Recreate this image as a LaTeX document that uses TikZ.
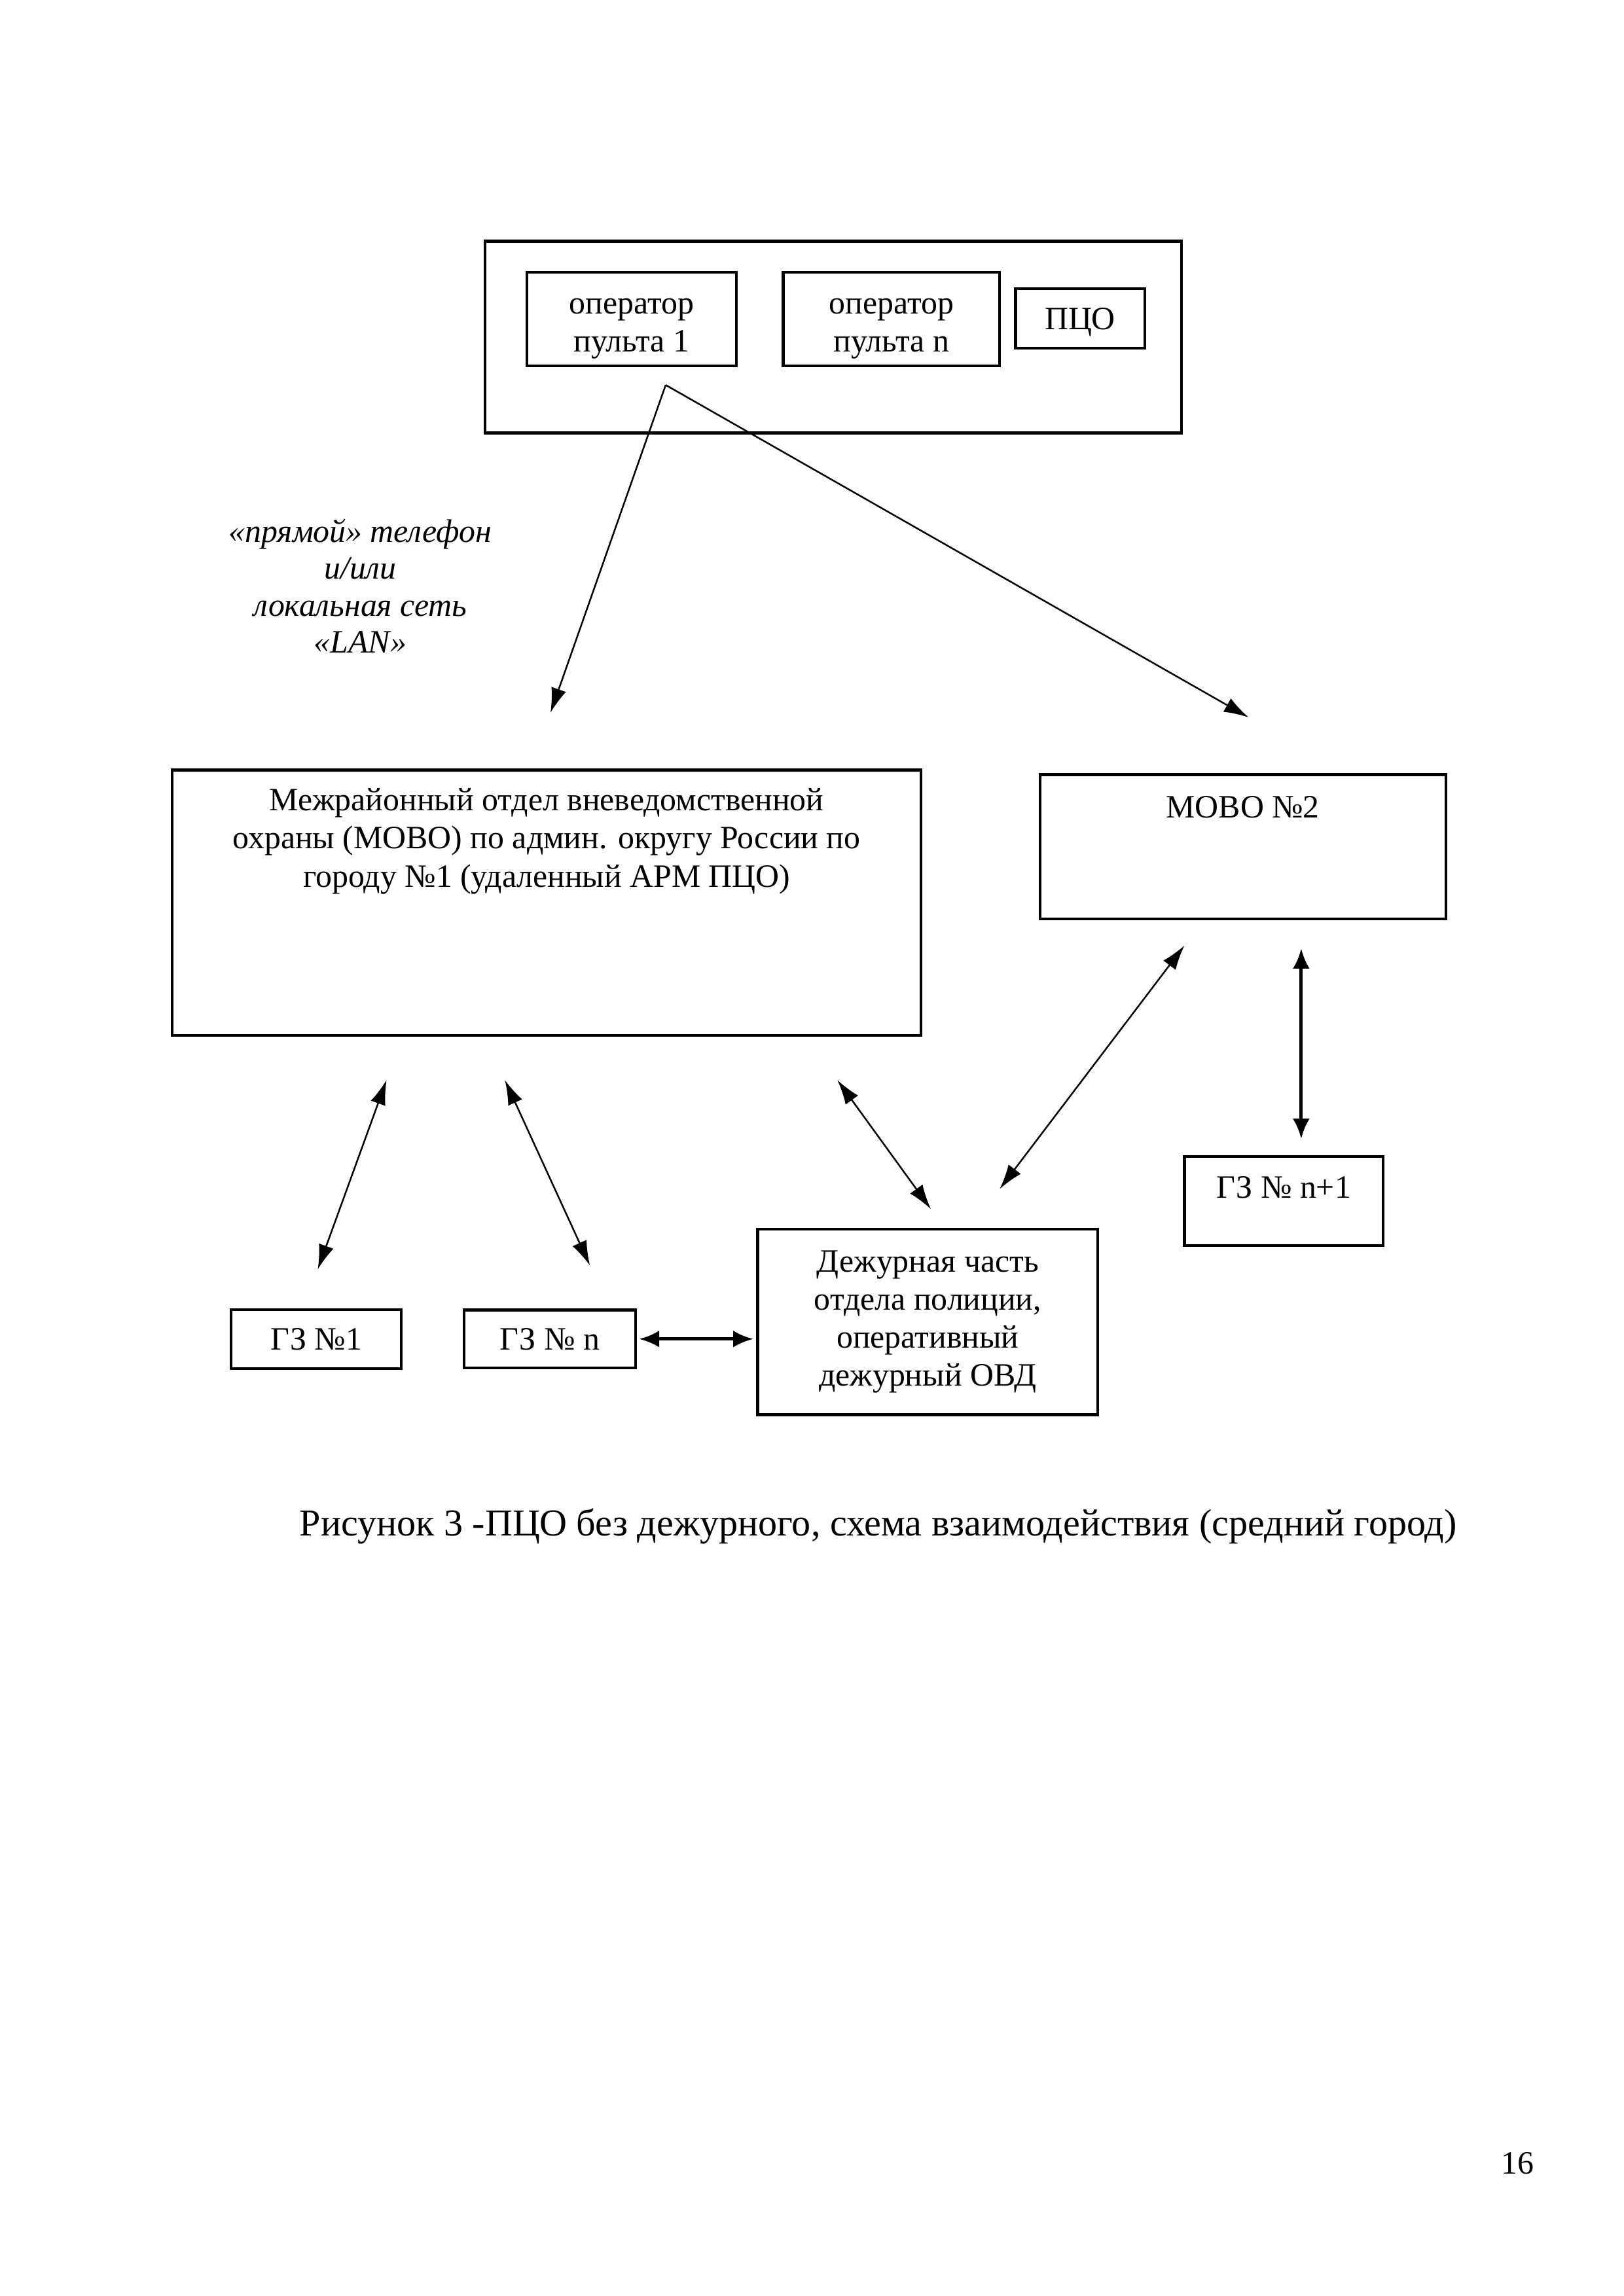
\documentclass[tikz,border=0pt]{standalone}
\usepackage{fontspec}
\setmainfont{Liberation Serif}
\usetikzlibrary{arrows.meta,positioning}

\begin{document}
\begin{tikzpicture}[
  box/.style={draw,line width=1pt,align=center,inner sep=0pt,font=\fontsize{12}{14}\selectfont},
  boxtext/.style={align=center,inner sep=0pt,font=\fontsize{12}{14}\selectfont},
  oneway/.style={-{Latex[length=3.2mm,width=2mm]},line width=0.6pt},
  link/.style={{Latex[length=3.2mm,width=2mm]}-{Latex[length=3.2mm,width=2mm]},line width=0.6pt},
  boldlink/.style={{Latex[length=2.6mm,width=2.2mm]}-{Latex[length=2.6mm,width=2.2mm]},line width=1.2pt}
]
  \useasboundingbox (0,0) rectangle (21,-29.7);
  % Operator room
  \node[box,minimum width=9.01cm,minimum height=2.48cm] (room) at (10.775,-4.36) {};
  \node[box,minimum width=2.71cm,minimum height=1.21cm] (op1) at (8.17,-4.13) {};
  \node[boxtext] (op1txt) at ([yshift=-0.12cm]op1.center) {оператор\\пульта 1};
  \node[box,minimum width=2.80cm,minimum height=1.21cm] (opn) at (11.53,-4.13) {};
  \node[boxtext] (opntxt) at ([yshift=-0.12cm]opn.center) {оператор\\пульта n};
  \node[box,minimum width=1.67cm,minimum height=0.77cm] (pco) at (13.97,-4.12) {};
  \node[boxtext] (pcotxt) at ([yshift=-0.05cm]pco.center) {ПЦО};
  \node[boxtext,font=\itshape\fontsize{12}{13.6}\selectfont] (lan) at (4.66,-7.58) {«прямой» телефон\\и/или\\локальная сеть\\«LAN»};
  % Departments
  \node[box,minimum width=9.69cm,minimum height=3.43cm] (movo1) at (7.07,-11.675) {};
  \node[boxtext,anchor=north] (movo1txt) at ([yshift=-0.25cm]movo1.north) {Межрайонный отдел вневедомственной\\охраны (МОВО) по админ. округу России по\\городу №1 (удаленный АРМ ПЦО)};
  \node[box,minimum width=5.25cm,minimum height=1.87cm] (movo2) at (16.075,-10.955) {};
  \node[boxtext,anchor=north] (movo2txt) at ([yshift=-0.29cm]movo2.north) {МОВО №2};
  % Groups and duty unit
  \node[box,minimum width=2.20cm,minimum height=0.76cm] (gz1) at (4.09,-17.32) {ГЗ №1};
  \node[box,minimum width=2.22cm,minimum height=0.75cm] (gzn) at (7.11,-17.32) {ГЗ № n};
  \node[box,minimum width=4.40cm,minimum height=2.40cm] (duty) at (12.00,-17.10) {Дежурная часть\\отдела полиции,\\оперативный\\дежурный ОВД};
  \node[box,minimum width=2.57cm,minimum height=1.15cm] (gznn) at (16.605,-15.535) {};
  \node[boxtext,anchor=north] (gznntxt) at ([yshift=-0.27cm]gznn.north) {ГЗ № n+1};
  % Arrow ends
  \coordinate (hub) at (8.61,-4.98);
  \coordinate (hubA) at (7.12,-9.22);
  \coordinate (hubB) at (16.15,-9.28);
  \coordinate (m1a) at (5.00,-13.97);
  \coordinate (m1b) at (4.11,-16.42);
  \coordinate (m2a) at (6.53,-13.97);
  \coordinate (m2b) at (7.63,-16.37);
  \coordinate (m3a) at (10.83,-13.97);
  \coordinate (m3b) at (12.04,-15.64);
  \coordinate (m4a) at (15.32,-12.23);
  \coordinate (m4b) at (12.93,-15.38);
  \coordinate (m5a) at (16.83,-12.27);
  \coordinate (m5b) at (16.83,-14.73);
  \coordinate (gzr) at ([xshift=0.03cm]gzn.east);
  \coordinate (dutyl) at ([xshift=-0.04cm]duty.west |- gzn.east);
  % Arrows
  \draw[oneway] (hub) -- (hubA);
  \draw[oneway] (hub) -- (hubB);
  \draw[link] (m1a) -- (m1b);
  \draw[link] (m2a) -- (m2b);
  \draw[link] (m3a) -- (m3b);
  \draw[link] (m4a) -- (m4b);
  \draw[boldlink] (m5a) -- (m5b);
  \draw[boldlink] (gzr) -- (dutyl);
  % Caption and page number
  \node[font=\fontsize{14}{16}\selectfont] (caption) at (11.36,-19.74) {Рисунок 3 -ПЦО без дежурного, схема взаимодействия (средний город)};
  \node[font=\fontsize{12}{14}\selectfont] (page) at (19.63,-27.98) {16};
\end{tikzpicture}
\end{document}
